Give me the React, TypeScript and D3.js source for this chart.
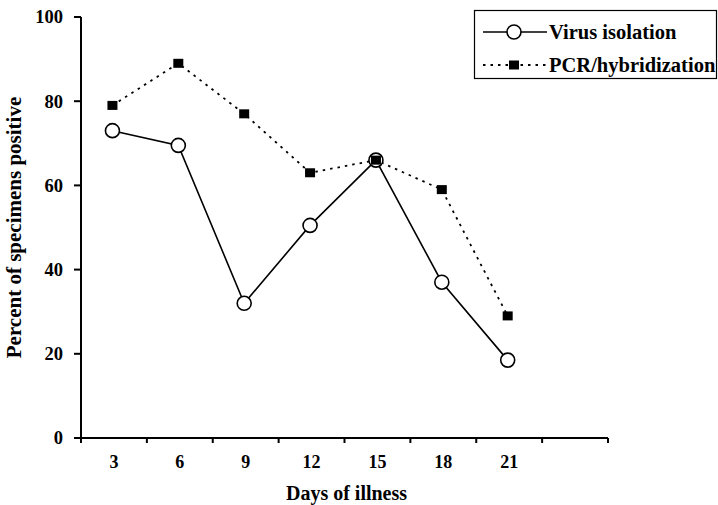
import React from "react";
import * as d3 from "d3";

const days = [3, 6, 9, 12, 15, 18, 21];
const virusIsolation = [73, 69.5, 32, 50.5, 66, 37, 18.5];
const pcrHybridization = [79, 89, 77, 63, 66, 59, 29];
const yTicks = [0, 20, 40, 60, 80, 100];

const width = 718;
const height = 505;
const font = "'Liberation Serif', 'Times New Roman', serif";

const App = () => {
  // 8 slots on the x axis, the last one is empty
  const x = d3.scaleLinear().domain([0, 8]).range([81, 608]);
  const y = d3.scaleLinear().domain([0, 100]).range([438, 17]);
  const px = (i: number) => x(i + 0.5) - 1.5;

  const line = d3
    .line<number>()
    .x((d, i) => px(i))
    .y((d) => y(d));

  return (
    <svg
      width={width}
      height={height}
      style={{ position: "absolute", left: 0, top: 0, background: "#fff" }}
      fontFamily={font}
      fontWeight="bold"
    >
      {/* y axis */}
      <line x1={x(0)} x2={x(0)} y1={y(100)} y2={y(0)} stroke="#000" strokeWidth={2} />
      {yTicks.map((t) => (
        <g key={t}>
          <line x1={x(0) - 7} x2={x(0)} y1={y(t)} y2={y(t)} stroke="#000" strokeWidth={2} />
          <text x={63} y={y(t)} dy="0.35em" textAnchor="end" fontSize={18.5}>
            {t}
          </text>
        </g>
      ))}
      {/* x axis */}
      <line x1={x(0) - 7} x2={x(8)} y1={y(0)} y2={y(0)} stroke="#000" strokeWidth={2} />
      {d3.range(0, 9).map((i) => (
        <line key={i} x1={x(i)} x2={x(i)} y1={y(0)} y2={y(0) + 5} stroke="#000" strokeWidth={2} />
      ))}
      {days.map((d, i) => (
        <text key={d} x={x(i + 0.5)} y={468} textAnchor="middle" fontSize={18}>
          {d}
        </text>
      ))}
      <text x={(x(0) + x(8)) / 2 + 2} y={500} textAnchor="middle" fontSize={20}>
        Days of illness
      </text>
      <text
        transform={`translate(21,${(y(0) + y(100)) / 2}) rotate(-90)`}
        textAnchor="middle"
        fontSize={21}
      >
        Percent of specimens positive
      </text>

      {/* series */}
      <path
        d={line(pcrHybridization) || ""}
        fill="none"
        stroke="#000"
        strokeWidth={1.8}
        strokeDasharray="2.5,5"
      />
      <path d={line(virusIsolation) || ""} fill="none" stroke="#000" strokeWidth={1.6} />
      {virusIsolation.map((v, i) => (
        <circle key={i} cx={px(i)} cy={y(v)} r={7} fill="#fff" stroke="#000" strokeWidth={1.6} />
      ))}
      {pcrHybridization.map((v, i) => (
        <rect key={i} x={px(i) - 5} y={y(v) - 4.5} width={10} height={9} fill="#000" />
      ))}

      {/* legend */}
      <rect x={474.5} y={10.5} width={242} height={68} fill="#fff" stroke="#000" strokeWidth={1.2} />
      <line x1={483} x2={547} y1={32} y2={32} stroke="#000" strokeWidth={1.6} />
      <circle cx={514} cy={32} r={7} fill="#fff" stroke="#000" strokeWidth={1.6} />
      <text x={549} y={32} dy="0.35em" fontSize={20.5}>
        Virus isolation
      </text>
      <line x1={483} x2={547} y1={65} y2={65} stroke="#000" strokeWidth={1.8} strokeDasharray="2.5,5" />
      <rect x={509} y={60.5} width={10} height={9} fill="#000" />
      <text x={549} y={65} dy="0.35em" fontSize={20.5}>
        PCR/hybridization
      </text>
    </svg>
  );
};

export default App;
